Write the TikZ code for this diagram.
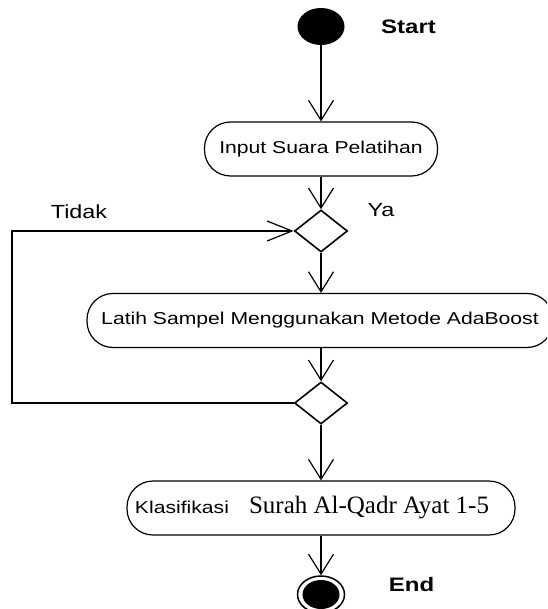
\documentclass[tikz,border=0pt]{standalone}
\usepackage{fontspec}
\setmainfont{Liberation Sans}
\newfontfamily\arialw[FakeStretch=1.23]{Liberation Sans}
\newfontfamily\timesf{Liberation Serif}
\usetikzlibrary{shapes.geometric,arrows.meta}
\begin{document}
\begin{tikzpicture}[x=1pt,y=-1pt,
  act/.style={draw, line width=1.2pt, rounded corners=26pt, minimum height=54pt, inner sep=0pt,
    font=\arialw\fontsize{17.2}{20}\selectfont},
  dec/.style={draw, diamond, line width=1.6pt, minimum width=53pt, minimum height=42pt, inner sep=0pt},
  flow/.style={line width=1.2pt, -{Straight Barb[length=20pt,width=25pt,line width=1.2pt]}},
  hflow/.style={line width=1.2pt, -{Straight Barb[length=25pt,width=20pt,line width=1.2pt]}},
  lbl/.style={inner sep=0pt, font=\arialw\fontsize{17.2}{20}\selectfont},
  side/.style={inner sep=0pt, font=\arialw\fontsize{19}{22}\selectfont},
  blbl/.style={inner sep=0pt, font=\arialw\bfseries\fontsize{19.5}{23}\selectfont}
]
\useasboundingbox (0,0) rectangle (547,609);
\begin{scope}
\clip (0,0) rectangle (547,609);
% start
\node[ellipse, fill, minimum width=47pt, minimum height=37pt, inner sep=0pt] (start) at (321,26.5) {};
\node[blbl] (starttxt) at (408.5,27) {Start};
% activities
\node[act, minimum width=233pt] (inp) at (321,149) {Input Suara Pelatihan};
\node[dec] (d1) at (321,231) {};
\node[side] (ya) at (381,210) {Ya};
\node[side] (tidak) at (79,211.5) {Tidak};
\node[act, minimum width=466pt] (latih) at (320,320.5) {Latih Sampel Menggunakan Metode AdaBoost};
\node[dec] (d2) at (321,403) {};
\node[act, minimum width=388pt] (kl) at (321,508) {};
\node[lbl] (kltxt) at (312,508) {Klasifikasi\hspace{20pt}{\timesf\fontsize{25}{28}\selectfont Surah Al-Qadr Ayat 1-5}};
% end
\node[ellipse, draw, line width=1.5pt, minimum width=47pt, minimum height=37pt, inner sep=0pt] (endn) at (321,594.5) {};
\fill (endn.center) ellipse [x radius=18.5pt, y radius=14.5pt];
\node[blbl] (endtxt) at (411.5,585) {End};
% connectors
\draw[flow] (start.south) -- (inp.north);
\draw[flow] (inp.south) -- (d1.north);
\draw[flow] (d1.south) -- (d1.south |- latih.north);
\draw[flow] (d2.north |- latih.south) -- (d2.north);
\draw[flow] (d2.south) -- (kl.north);
\draw[flow] (kl.south) -- (endn.north);
\coordinate (lb) at (12,403);
\coordinate (lt) at (12,231);
\draw[hflow] (d2.west) -- (lb) -- (lt) -- (d1.west);
\end{scope}
\end{tikzpicture}
\end{document}
